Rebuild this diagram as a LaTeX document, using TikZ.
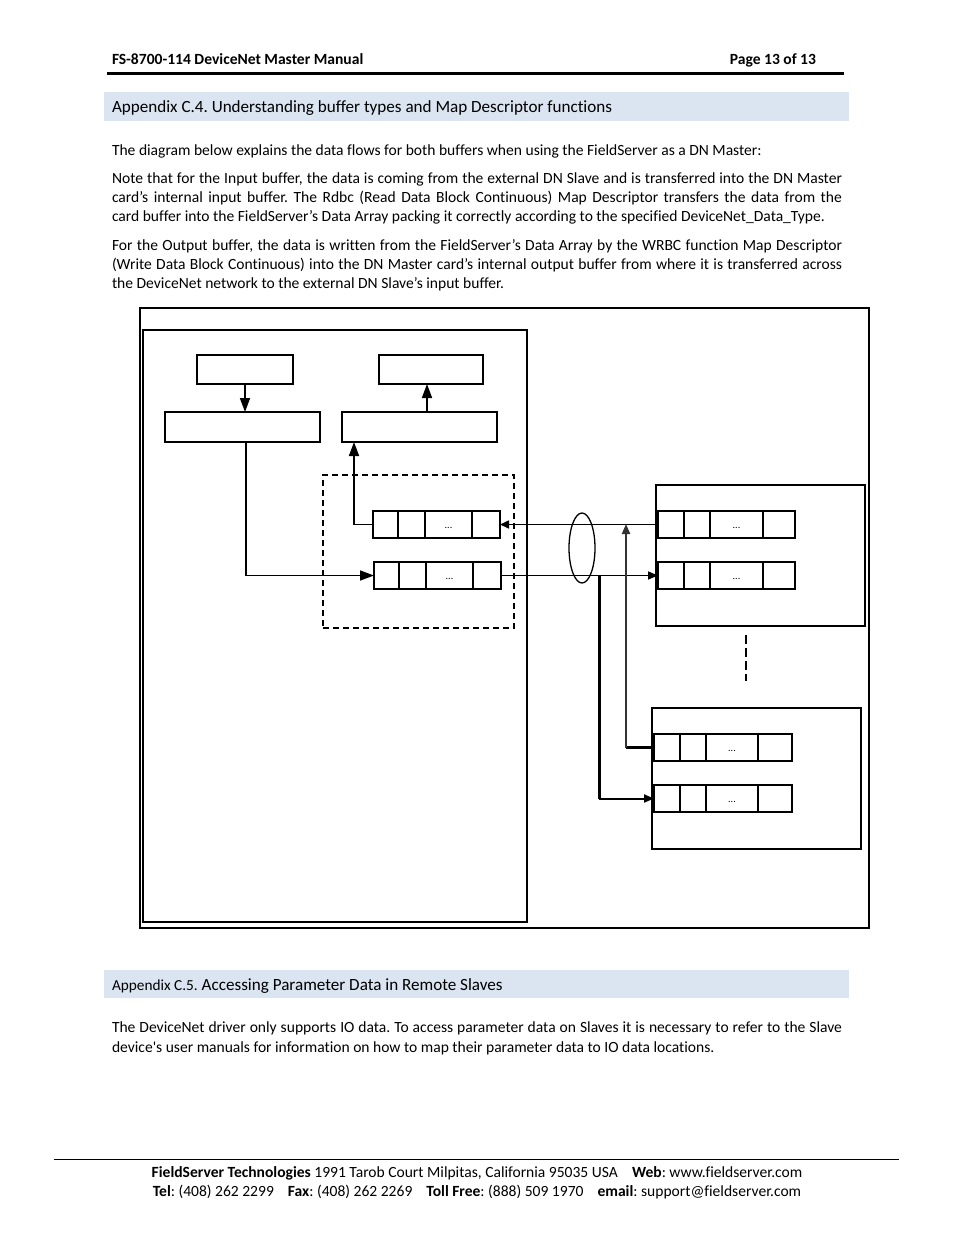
\documentclass[tikz,border=0pt]{standalone}
\usepackage{fontspec}
\setmainfont[Ligatures=CommonOff]{Carlito}
\usetikzlibrary{arrows.meta,calc,shapes.geometric}
\definecolor{band}{RGB}{219,229,241}
\frenchspacing
\newcommand{\mybuf}[7]{%
  \node[box, anchor=north west, minimum width=#4, minimum height=27] (#1) at (#2,#3) {};
  \draw[cell] ([xshift=#5]#1.north west) -- ([xshift=#5]#1.south west);
  \draw[cell] ([xshift=#6]#1.north west) -- ([xshift=#6]#1.south west);
  \draw[cell] ([xshift=#7]#1.north west) -- ([xshift=#7]#1.south west);
  \node[dots] (#1d) at ([xshift={(#6+#7)/2}, yshift=-3]#1.west) {...};
}
\begin{document}
\begin{tikzpicture}[x=1pt,y=-1pt,
  body/.style={anchor=base west, inner sep=0, outer sep=0, font=\fontsize{15.56}{19}\selectfont},
  bodyc/.style={anchor=base, inner sep=0, outer sep=0, font=\fontsize{15.56}{19}\selectfont},
  heading/.style={anchor=base west, inner sep=0, outer sep=0, font=\fontsize{17.1}{20}\selectfont},
  box/.style={draw, line width=1.2pt, inner sep=0, outer sep=0},
  cell/.style={line width=1.1pt},
  dots/.style={inner sep=0, font=\fontsize{10}{10}\selectfont},
  conn/.style={line width=1.6pt},
  bigtip/.style={-{Triangle[length=14pt,width=10pt]}},
  midtip/.style={-{Triangle[length=10pt,width=8pt]}},
  smalltip/.style={-{Triangle[length=9pt,width=8pt]}}
]
\useasboundingbox (0,0) rectangle (954,1235);
\fill[white] (0,0) rectangle (954,1235);

% header
\node[body, font=\fontsize{15.56}{19}\selectfont\bfseries] (hdl) at (112,64) {FS-8700-114 DeviceNet Master Manual};
\node[body, anchor=base east, font=\fontsize{15.56}{19}\selectfont\bfseries] (hdr) at (816,64) {Page 13 of 13};
\draw[line width=3pt] (107,73) -- (844,73);

% heading C.4
\fill[band] (104,92) rectangle (849,121);
\node[heading] (h4) at (112,112) {Appendix C.4. Understanding buffer types and Map Descriptor functions};

\node[body] (l0) at (112,155) {The diagram below explains the data flows for both buffers when using the FieldServer as a DN Master:};
\node[body] (l1) at (112,183) {\hbox to 730pt{Note that for the Input buffer, the data is coming from the external DN Slave and is transferred into the DN Master}};
\node[body] (l2) at (112,202) {\hbox to 730pt{card’s internal input buffer. The Rdbc (Read Data Block Continuous) Map Descriptor transfers the data from the}};
\node[body] (l3) at (112,221) {card buffer into the FieldServer’s Data Array packing it correctly according to the specified DeviceNet\_Data\_Type.};
\node[body] (l4) at (112,250) {\hbox to 730pt{For the Output buffer, the data is written from the FieldServer’s Data Array by the WRBC function Map Descriptor}};
\node[body] (l5) at (112,269) {\hbox to 730pt{(Write Data Block Continuous) into the DN Master card’s internal output buffer from where it is transferred across}};
\node[body] (l6) at (112,288) {the DeviceNet network to the external DN Slave’s input buffer.};

% diagram frames
\node[box, anchor=north west, minimum width=729, minimum height=620] (frame) at (140,308) {};
\node[box, anchor=north west, minimum width=384, minimum height=592] (master) at (143,330) {};
\node[box, anchor=north west, minimum width=96, minimum height=29] (A) at (197,355) {};
\node[box, anchor=north west, minimum width=104, minimum height=29] (B) at (379,355) {};
\node[box, anchor=north west, minimum width=155, minimum height=30] (C) at (165,412) {};
\node[box, anchor=north west, minimum width=155, minimum height=30] (D) at (342,412) {};
\draw[line width=2.4pt] (D.north west) -- (D.north east);
\node[box, dashed, dash pattern=on 6pt off 4pt, anchor=north west, minimum width=191, minimum height=153] (card) at (323,475) {};

\mybuf{m1}{373}{511}{127}{25}{52}{99}
\mybuf{m2}{374}{562}{127}{25}{52}{99}

\node[box, anchor=north west, minimum width=209, minimum height=141] (slave1) at (656,485) {};
\mybuf{s1a}{658}{511}{137}{26}{52}{105}
\mybuf{s1b}{658}{562}{137}{26}{52}{105}

\node[box, anchor=north west, minimum width=209, minimum height=141] (slave2) at (652,708) {};
\mybuf{s2a}{654}{734}{138}{26}{52}{104}
\mybuf{s2b}{654}{785}{138}{26}{52}{104}

\draw[line width=1.2pt, dash pattern=on 9pt off 4pt] (746,635) -- (746,681);

% connectors
\draw[conn, bigtip] (A.south) -- (A.south |- C.north);
\draw[conn, bigtip] ([xshift=-4]B.south |- D.north) -- ([xshift=-4]B.south);
\draw[conn, bigtip] ([xshift=3.5]C.south) |- (m2.west);
\draw[conn, bigtip] (m1.west) -| ([xshift=12]D.south west);
\draw[conn, smalltip] (s1a.west) -- (m1.east);
\draw[conn, midtip] (m2.east) -- (s1b.west);
\node[draw, line width=1.3pt, ellipse, inner sep=0, minimum width=26, minimum height=70] (bus) at (582,548) {};
\coordinate (t1) at (599,576);
\coordinate (t2) at (626,524);
\draw[line width=3pt] (t1) -- (t1 |- s2b.west);
\draw[line width=2pt, midtip] (t1 |- s2b.west) -- (s2b.west);
\draw[line width=2.4pt] (s2a.west) -- (s2a.west -| t2);
\draw[line width=2pt, black!80, midtip] (s2a.west -| t2) -- (t2);

% heading C.5
\fill[band] (104,970) rectangle (849,998);
\node[heading] (h5) at (112,990) {{\fontsize{15.3}{17}\selectfont Appendix C.5.} Accessing Parameter Data in Remote Slaves};
\node[body] (q1) at (112,1032) {\hbox to 730pt{The DeviceNet driver only supports IO data. To access parameter data on Slaves it is necessary to refer to the Slave}};
\node[body] (q2) at (112,1052) {device\textquotesingle s user manuals for information on how to map their parameter data to IO data locations.};

% footer
\draw[line width=1pt] (54,1159) -- (899,1159);
\node[bodyc] (f1) at (477,1177) {\textbf{FieldServer Technologies} 1991 Tarob Court Milpitas, California 95035 USA\ \ \ \ \textbf{Web}: www.fieldserver.com};
\node[bodyc] (f2) at (477,1196) {\textbf{Tel}: (408) 262 2299\ \ \ \ \textbf{Fax}: (408) 262 2269\ \ \ \ \textbf{Toll Free}: (888) 509 1970\ \ \ \ \textbf{email}: support@fieldserver.com};
\end{tikzpicture}
\end{document}
